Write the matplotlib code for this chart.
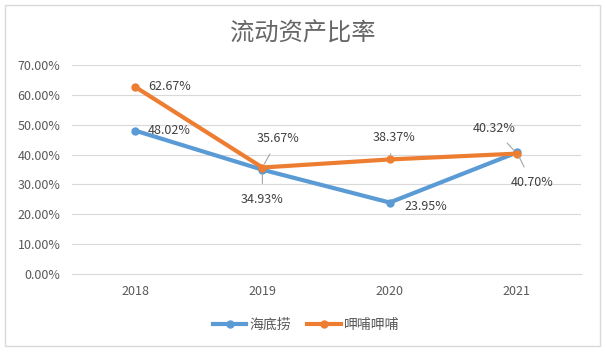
import matplotlib
matplotlib.use("Agg")
import matplotlib.pyplot as plt
from matplotlib.patches import Rectangle
from matplotlib.ticker import FuncFormatter

plt.rcParams['font.family'] = ['Noto Sans CJK SC', 'DejaVu Sans']

# data
years = ['2018', '2019', '2020', '2021']
haidilao = [48.02, 34.93, 23.95, 40.70]
xiabu = [62.67, 35.67, 38.37, 40.32]

# label offsets in pixels (dx, dy), alignment, leader line flag
hdl_offsets = [(13, 0, 'left', False), (0, -30, 'center', True),
               (15, -4, 'left', False), (15, -30, 'center', True)]
xb_offsets = [(13, 0, 'left', False), (16, 29, 'center', True),
              (4, 22, 'center', True), (-23, 25, 'center', True)]

blue = '#5b9bd5'
orange = '#ed7d31'
text_c = '#595959'
grid_c = '#d9d9d9'

fig = plt.figure(figsize=(6.06, 3.55), dpi=100)
ax = fig.add_axes([0.118, 0.228, 0.840, 0.589])

x = list(range(len(years)))
ax.plot(x, haidilao, color=blue, lw=3, marker='o', ms=5, label='海底捞', zorder=3)
ax.plot(x, xiabu, color=orange, lw=3, marker='o', ms=5, label='呷哺呷哺', zorder=4)


def put_labels(vals, offs):
    for i, v in enumerate(vals):
        dx, dy, ha, lead = offs[i]
        kw = {}
        if lead:
            kw['arrowprops'] = dict(arrowstyle='-', color='#a6a6a6', lw=0.8,
                                    shrinkA=5, shrinkB=3)
        ax.annotate(f'{v:.2f}%', (i, v), xytext=(dx, dy),
                    textcoords='offset pixels', ha=ha, va='center',
                    fontsize=9, color='#404040', zorder=5, **kw)


put_labels(haidilao, hdl_offsets)
put_labels(xiabu, xb_offsets)

ax.set_xlim(-0.5, 3.5)
ax.set_ylim(0, 70)
ax.set_yticks(range(0, 71, 10))
ax.yaxis.set_major_formatter(FuncFormatter(lambda v, p: f'{v:.2f}%'))
ax.set_xticks(x)
ax.set_xticklabels(years)
ax.grid(axis='y', color=grid_c, lw=0.8)
ax.set_axisbelow(True)
for s in ['top', 'right', 'left']:
    ax.spines[s].set_visible(False)
ax.spines['bottom'].set_color(grid_c)
ax.tick_params(length=0, labelsize=9, colors=text_c, pad=8)

fig.text(0.5, 0.905, '流动资产比率', ha='center', va='center',
         fontsize=17.5, color='#666666', fontweight='light')

fig.legend(loc='center', bbox_to_anchor=(0.505, 0.085), ncol=2, frameon=False,
           fontsize=10, handlelength=2.4, handletextpad=0.2, columnspacing=1.2,
           labelcolor=text_c)

fig.patches.append(Rectangle((0.008, 0.025), 0.982, 0.962, transform=fig.transFigure,
                             fill=False, edgecolor='#d9d9d9', lw=1))

fig.savefig('out.png', dpi=100)
